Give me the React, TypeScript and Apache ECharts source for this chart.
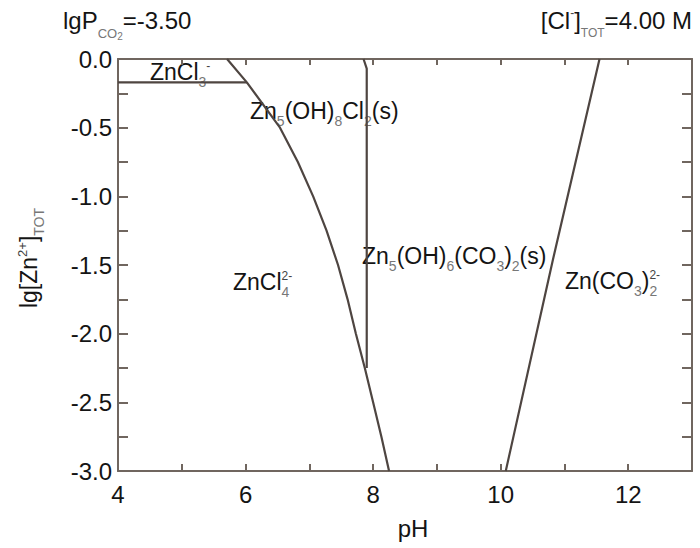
import React, { useEffect, useRef } from "react";
import * as echarts from "echarts";

// ---------- data ----------
const xLabelValues = [4, 6, 8, 10, 12];
const yLabelValues = [0, -0.5, -1, -1.5, -2, -2.5, -3];

// ZnCl3- / ZnCl4 2- horizontal boundary
const chlorideEdgePH = [4.0, 6.02];
const chlorideEdgeLg = [-0.17, -0.17];

// solubility boundary of the chloride complexes
const chlorideSolidPH = [5.71, 6.02, 6.54, 6.82, 7.06, 7.27, 7.45, 7.6, 7.73, 7.87, 8.0, 8.13, 8.25];
const chlorideSolidLg = [0.0, -0.17, -0.5, -0.75, -1.0, -1.25, -1.5, -1.75, -2.0, -2.25, -2.5, -2.75, -3.0];

// Zn5(OH)8Cl2(s) / Zn5(OH)6(CO3)2(s) boundary
const solidBoundaryPH = [7.85, 7.9, 7.9];
const solidBoundaryLg = [0.0, -0.07, -2.25];

// Zn5(OH)6(CO3)2(s) / Zn(CO3)2 2- boundary
const carbonateEdgePH = [10.08, 10.82, 11.55];
const carbonateEdgeLg = [-3.0, -1.46, 0.0];

type Kind = "n" | "b" | "p" | "bb" | "ps";
type Part = [string, Kind];

const labelZnCl3: Part[] = [["ZnCl", "n"], ["3", "b"], ["-", "p"]];
const labelHydroxyChloride: Part[] = [["Zn", "n"], ["5", "b"], ["(OH)", "n"], ["8", "b"], ["Cl", "n"], ["2", "b"], ["(s)", "n"]];
const labelZnCl4: Part[] = [["ZnCl", "n"], ["4", "b"], ["2-", "ps"]];
const labelHydrozincite: Part[] = [["Zn", "n"], ["5", "b"], ["(OH)", "n"], ["6", "b"], ["(CO", "n"], ["3", "b"], [")", "n"], ["2", "b"], ["(s)", "n"]];
const labelCarbonate: Part[] = [["Zn(CO", "n"], ["3", "b"], [")", "n"], ["2", "b"], ["2-", "ps"]];
const labelPCO2: Part[] = [["lgP", "n"], ["CO", "b"], ["2", "bb"], ["=-3.50", "n"]];
const labelClTot: Part[] = [["[Cl", "n"], ["-", "p"], ["]", "n"], ["TOT", "b"], ["=4.00 M", "n"]];
const labelYAxis: Part[] = [["lg[Zn", "n"], ["2+", "p"], ["]", "n"], ["TOT", "b"]];
const labelXAxis = "pH";

// ---------- styling ----------
const FONT = '"Liberation Sans", Arial, Helvetica, sans-serif';
const MAIN = "#141414";
const SUB = "#777777";
const SUP = "#444444";
const AXIS_COLOR = "#70665f";
const LINE_COLOR = "#4e4541";

let measureCtx: CanvasRenderingContext2D | null = null;
function textWidth(t: string, size: number): number {
  if (!measureCtx) measureCtx = document.createElement("canvas").getContext("2d");
  if (!measureCtx) return t.length * size * 0.55;
  measureCtx.font = `${size}px ${FONT}`;
  return measureCtx.measureText(t).width;
}

interface FormulaOpts {
  x: number;
  y: number;
  size: number;
  sub: number;
  sup: number;
  subDy: number;
  supDy: number;
  align?: "left" | "right" | "center";
  rotation?: number;
}

function formula(parts: Part[], o: FormulaOpts) {
  let cursor = 0;
  let prevStart = 0;
  const items: { t: string; size: number; dy: number; fill: string; x: number }[] = [];
  for (const [t, k] of parts) {
    let size = o.size;
    let dy = 0;
    let fill = MAIN;
    let start = cursor;
    if (k === "b") {
      size = o.sub;
      dy = o.subDy;
      fill = SUB;
    } else if (k === "bb") {
      size = Math.round(o.sub * 0.8);
      dy = o.subDy + 3;
      fill = SUB;
    } else if (k === "p" || k === "ps") {
      size = o.sup;
      dy = -o.supDy;
      fill = SUP;
      if (k === "ps") start = prevStart;
    }
    const w = textWidth(t, size);
    items.push({ t, size, dy, fill, x: start });
    prevStart = start;
    cursor = Math.max(cursor, start + w);
  }
  const off = o.align === "right" ? -cursor : o.align === "center" ? -cursor / 2 : 0;
  return {
    type: "group",
    x: o.x,
    y: o.y,
    rotation: o.rotation || 0,
    silent: true,
    children: items.map((it) => ({
      type: "text",
      x: it.x + off,
      y: it.dy,
      style: {
        text: it.t,
        fontSize: it.size,
        fontFamily: FONT,
        fill: it.fill,
        align: "left",
        verticalAlign: "middle",
      },
    })),
  };
}

const zip = (xs: number[], ys: number[]) => xs.map((x, i) => [x, ys[i]]);

function lineSeries(name: string, xs: number[], ys: number[]) {
  return {
    name,
    type: "line",
    data: zip(xs, ys),
    showSymbol: false,
    symbol: "none",
    smooth: false,
    silent: true,
    lineStyle: { color: LINE_COLOR, width: 2.2 },
    z: 3,
  };
}

export default function App() {
  const ref = useRef<HTMLDivElement>(null);

  useEffect(() => {
    if (!ref.current) return;
    const chart = echarts.init(ref.current, null, { renderer: "svg" });

    const region = { size: 23, sub: 14, sup: 12, subDy: 10, supDy: 6 };

    const xAxisBase = {
      type: "value",
      min: 4,
      max: 13,
      interval: 1,
      splitLine: { show: false },
      axisLine: { show: true, onZero: false, lineStyle: { color: AXIS_COLOR, width: 2 } },
    };
    const yAxisBase = {
      type: "value",
      min: -3,
      max: 0,
      interval: 0.25,
      splitLine: { show: false },
      axisLine: { show: true, onZero: false, lineStyle: { color: AXIS_COLOR, width: 2 } },
      axisTick: { show: true, inside: true, length: 10, lineStyle: { color: AXIS_COLOR, width: 2 } },
    };

    chart.setOption({
      animation: false,
      backgroundColor: "#ffffff",
      grid: { left: 118, right: 8, top: 59, bottom: 77, containLabel: false },
      xAxis: [
        {
          ...xAxisBase,
          position: "bottom",
          axisTick: { show: true, inside: true, length: 7, lineStyle: { color: AXIS_COLOR, width: 2 } },
          axisLabel: {
            show: true,
            margin: 11,
            fontSize: 24,
            fontFamily: FONT,
            color: MAIN,
            formatter: (v: number) => (xLabelValues.includes(v) ? String(v) : ""),
          },
        },
        {
          ...xAxisBase,
          position: "top",
          axisTick: { show: true, inside: true, length: 6, lineStyle: { color: AXIS_COLOR, width: 2 } },
          axisLabel: { show: false },
        },
      ],
      yAxis: [
        {
          ...yAxisBase,
          position: "left",
          axisLabel: {
            show: true,
            margin: 6,
            fontSize: 24,
            fontFamily: FONT,
            color: MAIN,
            formatter: (v: number) =>
              yLabelValues.some((l) => Math.abs(l - v) < 1e-6) ? (Math.abs(v) < 1e-9 ? 0 : v).toFixed(1) : "",
          },
        },
        {
          ...yAxisBase,
          position: "right",
          axisLabel: { show: false },
        },
      ],
      series: [
        lineSeries("ZnCl3-/ZnCl4 2-", chlorideEdgePH, chlorideEdgeLg),
        lineSeries("chloride solubility", chlorideSolidPH, chlorideSolidLg),
        lineSeries("solid boundary", solidBoundaryPH, solidBoundaryLg),
        lineSeries("carbonate solubility", carbonateEdgePH, carbonateEdgeLg),
      ],
      graphic: [
        formula(labelPCO2, { x: 63, y: 20, size: 24, sub: 13, sup: 12, subDy: 13, supDy: 6 }),
        formula(labelClTot, { x: 692, y: 20, size: 24, sub: 12, sup: 12, subDy: 13, supDy: 7, align: "right" }),
        formula(labelYAxis, { x: 29, y: 258, size: 23, sub: 14, sup: 13, subDy: 10, supDy: 7, align: "center", rotation: Math.PI / 2 }),
        {
          type: "text",
          x: 413,
          y: 528,
          silent: true,
          style: { text: labelXAxis, fontSize: 24, fontFamily: FONT, fill: MAIN, align: "center", verticalAlign: "middle" },
        },
        formula(labelZnCl3, { x: 150, y: 72, ...region }),
        formula(labelHydroxyChloride, { x: 250, y: 111, ...region }),
        formula(labelZnCl4, { x: 233, y: 282, ...region }),
        formula(labelHydrozincite, { x: 362, y: 256, ...region }),
        formula(labelCarbonate, { x: 565, y: 281, ...region }),
      ],
    });

    return () => {
      chart.dispose();
    };
  }, []);

  return (
    <div
      ref={ref}
      style={{ position: "absolute", left: 0, top: 0, width: 700, height: 548, background: "#fff" }}
    />
  );
}
